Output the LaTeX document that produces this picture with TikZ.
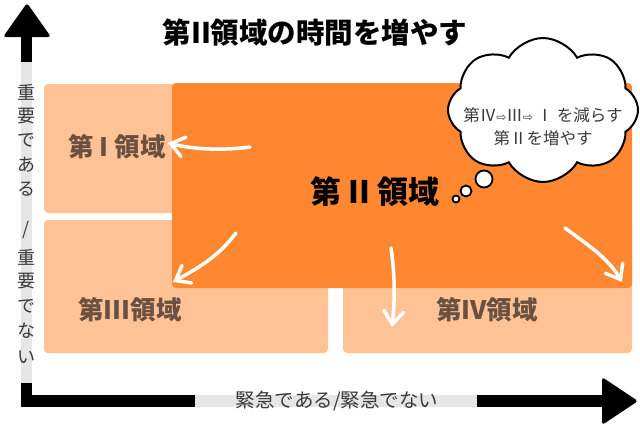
\documentclass[tikz,border=0pt]{standalone}
\usepackage{fontspec}
\newfontfamily\jp{Noto Sans CJK JP}
\newfontfamily\dejavu{DejaVu Sans}
\usetikzlibrary{shapes.symbols,arrows.meta}
\definecolor{peach}{HTML}{FFC295}
\definecolor{orangeq}{HTML}{FF8730}
\definecolor{brownt}{HTML}{6A5040}
\definecolor{bandgray}{HTML}{E6E6E6}
\definecolor{thintext}{HTML}{3A3A3A}
\tikzset{
  quad/.style={fill=peach, rounded corners=4pt, draw=none},
  quadlabel/.style={font=\jp\bfseries\fontsize{25.5}{25.5}\selectfont, text=brownt, inner sep=0pt},
  whitearrow/.style={draw=white, line width=3.5pt, line cap=round, line join=round,
     -{Straight Barb[length=13pt,width=20pt,line cap=round]}},
  axislabel/.style={font=\jp\fontsize{18}{18}\selectfont, text=thintext, inner sep=0pt},
  bubble/.style={circle, draw=black, line width=1.8pt, fill=white, inner sep=0pt},
}
\begin{document}
\begin{tikzpicture}[x=1pt,y=-1pt]
\useasboundingbox (0,0) rectangle (640,426);
\fill[white] (0,0) rectangle (640,426);
% title
\node[font=\jp\bfseries\fontsize{28.5}{28.5}\selectfont, inner sep=0pt] (title) at (315,33) {第II領域の時間を増やす};
% quadrants
\fill[quad] (44,84) rectangle (330,213);
\fill[quad] (44,220) rectangle (328,353);
\fill[quad] (343,220) rectangle (632,353);
\fill[orangeq, rounded corners=4pt] (172,83) rectangle (632,288);
\node[quadlabel] (q1) at (117,147) {第 I 領域};
\node[quadlabel] (q3) at (130,310) {第III領域};
\node[quadlabel] (q4) at (487,310) {第IV領域};
\node[font=\jp\bfseries\fontsize{31}{31}\selectfont, inner sep=0pt] (q2) at (375,192) {第 II 領域};
% white arrows
\coordinate (a1s) at (250,147); \coordinate (a1e) at (168,143);
\coordinate (a2s) at (236,233); \coordinate (a2e) at (173,282);
\coordinate (a3s) at (391,248); \coordinate (a3e) at (392,327);
\coordinate (a4s) at (565,228); \coordinate (a4e) at (622,282);
\draw[whitearrow] (a1s) .. controls (220,151) and (192,149) .. (a1e);
\draw[whitearrow] (a2s) .. controls (218,257) and (198,268) .. (a2e);
\draw[whitearrow] (a3s) .. controls (395,275) and (395,300) .. (a3e);
\draw[whitearrow] (a4s) .. controls (588,245) and (608,258) .. (a4e);
% cloud
\node[cloud, cloud puffs=8, cloud puff arc=120, aspect=1.3, draw=black, line width=2pt, fill=white,
  minimum width=190pt, minimum height=144pt, inner sep=0pt] (cloud) at (543,110) {};
\node[bubble, minimum size=17pt] (b1) at (484,179) {};
\node[bubble, minimum size=11pt] (b2) at (466,191) {};
\node[bubble, minimum size=7pt] (b3) at (456,199) {};
\node[font=\jp\fontsize{16.5}{16.5}\selectfont, text=thintext, inner sep=0pt] (ct1) at (543,115)
  {第Ⅳ{\dejavu\fontsize{12}{12}\selectfont ⇨}Ⅲ{\dejavu\fontsize{12}{12}\selectfont ⇨} Ⅰ を減らす};
\node[font=\jp\fontsize{16.5}{16.5}\selectfont, text=thintext, inner sep=0pt] (ct2) at (543,138) {第Ⅱを増やす};
% axes
\fill[bandgray] (21,62) rectangle (32,383);
\fill[black] (21,35) rectangle (32,62);
\fill[black] (21,383) rectangle (32,407);
\fill[black, rounded corners=3pt] (27,3) -- (51,37) -- (3,37) -- cycle;
\fill[black] (21,395) rectangle (195,407);
\fill[bandgray] (195,395) rectangle (477,407);
\fill[black] (477,395) rectangle (604,407);
\fill[black, rounded corners=3pt] (638,401) -- (602,425) -- (602,377) -- cycle;
% axis labels
\foreach \ch/\yy [count=\i] in {重/92, 要/116, で/140, あ/165, る/189, {/}/230, 重/257, 要/281, で/306, な/331, い/357}
  \node[axislabel] (v\i) at (26.5,\yy) {\ch};
\node[axislabel, font=\jp\fontsize{19.5}{19.5}\selectfont] (hx) at (337,401) {緊急である/緊急でない};
\end{tikzpicture}
\end{document}
